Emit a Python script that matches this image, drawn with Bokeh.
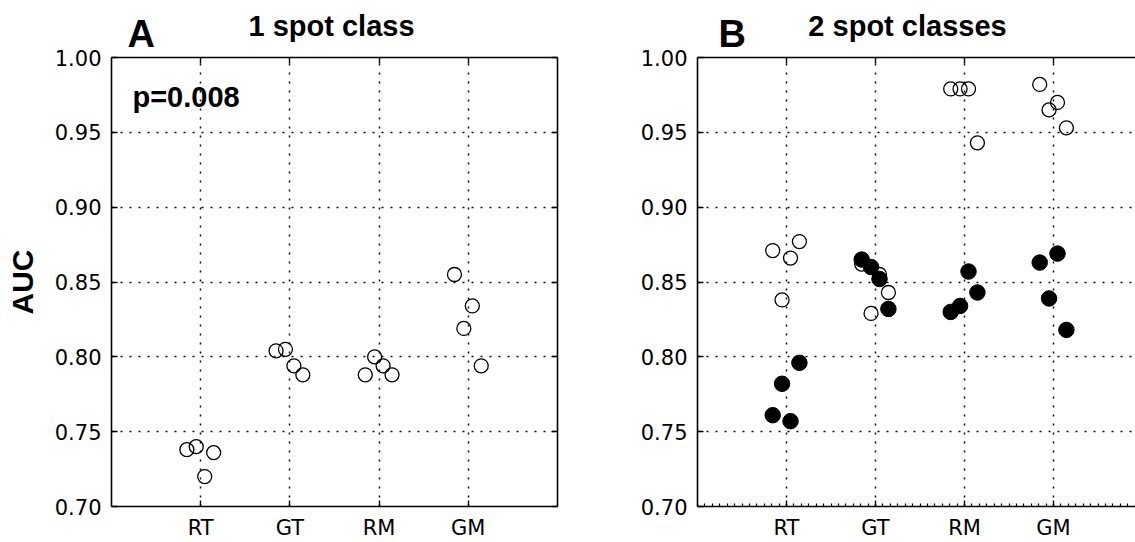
import numpy as np
from bokeh.plotting import figure
from bokeh.models import Range1d, FixedTicker, LinearAxis, Label, PrintfTickFormatter, ColumnDataSource
from bokeh.layouts import row, column
from bokeh.core.properties import value
from bokeh.embed import file_html
from bokeh.resources import INLINE

# ---------------- data ----------------
categories = ["RT", "GT", "RM", "GM"]
subject_offset = [-0.155, -0.05, 0.045, 0.145]   # per-subject horizontal jitter
y_ticks = [0.70, 0.75, 0.80, 0.85, 0.90, 0.95, 1.00]

# Panel A: 1 spot class (open circles)
one_class_RT = [0.738, 0.740, 0.720, 0.736]
one_class_GT = [0.804, 0.805, 0.794, 0.788]
one_class_RM = [0.788, 0.800, 0.794, 0.788]
one_class_GM = [0.855, 0.819, 0.834, 0.794]

# Panel B: 2 spot classes, open circles
two_class_open_RT = [0.871, 0.838, 0.866, 0.877]
two_class_open_GT = [0.862, 0.829, 0.855, 0.843]
two_class_open_RM = [0.979, 0.979, 0.979, 0.943]
two_class_open_GM = [0.982, 0.965, 0.970, 0.953]

# Panel B: 2 spot classes, filled circles
two_class_fill_RT = [0.761, 0.782, 0.757, 0.796]
two_class_fill_GT = [0.865, 0.860, 0.852, 0.832]
two_class_fill_RM = [0.830, 0.834, 0.857, 0.843]
two_class_fill_GM = [0.863, 0.839, 0.869, 0.818]

panel_letters = ["A", "B"]
panel_titles = ["1 spot class", "2 spot classes"]
p_value_text = "p=0.008"

FONT = "Liberation Sans"
TICK_FONT = "DejaVu Sans"

HEADER_H = 55
OVERLAP = 12
PANEL_TOP = HEADER_H - OVERLAP
PANEL_H = 542 - PANEL_TOP


def series_source(groups):
    xs, ys = [], []
    for ci, vals in enumerate(groups):
        for si, v in enumerate(vals):
            xs.append(ci + 1 + subject_offset[si])
            ys.append(v)
    return ColumnDataSource(dict(x=xs, y=ys))


def make_fig(width, min_left, min_right, xmax, right_axis, minor_bottom):
    p = figure(width=width, height=PANEL_H, x_range=Range1d(0, xmax), y_range=Range1d(0.70, 1.00),
               output_backend="svg", toolbar_location=None, title=None,
               min_border_left=min_left, min_border_right=min_right,
               min_border_top=57 - PANEL_TOP, min_border_bottom=33)
    p.outline_line_color = None
    p.background_fill_color = "white"
    p.border_fill_color = None

    # grid (dotted)
    p.xgrid.ticker = FixedTicker(ticks=[1, 2, 3, 4])
    p.ygrid.ticker = FixedTicker(ticks=y_ticks)
    for g in (p.xgrid, p.ygrid):
        g.grid_line_color = "black"
        g.grid_line_dash = "2 7"
        g.grid_line_width = 1.5
        g.grid_line_alpha = 0.95

    xa = p.xaxis[0]
    if minor_bottom:
        xa.ticker = FixedTicker(ticks=[1, 2, 3, 4], minor_ticks=list(np.arange(0, xmax, 1 / 12)))
    else:
        xa.ticker = FixedTicker(ticks=[1, 2, 3, 4])
    xa.major_label_overrides = {i + 1: c for i, c in enumerate(categories)}
    ya = p.yaxis[0]
    ya.ticker = FixedTicker(ticks=y_ticks)
    ya.formatter = PrintfTickFormatter(format="%.2f")

    for ax in (xa, ya):
        ax.axis_line_color = "black"
        ax.axis_line_width = 1.6
        ax.major_tick_in = 6
        ax.major_tick_out = 0
        ax.major_tick_line_color = "black"
        ax.major_tick_line_width = 1.4
        ax.major_label_text_font = TICK_FONT
        ax.major_label_text_font_size = "21px"
        ax.major_label_text_color = "black"
    xa.major_label_standoff = 9
    ya.major_label_standoff = 10
    if minor_bottom:
        xa.minor_tick_in = 3
        xa.minor_tick_out = 0
        xa.minor_tick_line_color = "black"
        xa.minor_tick_line_width = 1.2
    else:
        xa.minor_tick_line_color = None
    ya.minor_tick_line_color = None

    # top (and right) frame lines carrying inward tick marks, without labels
    top = LinearAxis(ticker=FixedTicker(ticks=[1, 2, 3, 4]))
    extra = [top]
    if right_axis:
        extra.append(LinearAxis(ticker=FixedTicker(ticks=y_ticks)))
    for ax in extra:
        ax.axis_line_color = "black"
        ax.axis_line_width = 1.6
        ax.major_tick_in = 6
        ax.major_tick_out = 0
        ax.major_tick_line_color = "black"
        ax.major_tick_line_width = 1.4
        ax.minor_tick_line_color = None
        ax.major_label_text_color = None
        ax.major_label_text_font_size = "1px"
        ax.major_label_standoff = 0
    p.add_layout(top, "above")
    if right_axis:
        p.add_layout(extra[1], "right")
    return p


# ---------------- header (panel letters and titles) ----------------
header = figure(width=1135, height=HEADER_H, x_range=Range1d(0, 1135), y_range=Range1d(HEADER_H, 0),
                output_backend="svg", toolbar_location=None, min_border=0, title=None,
                x_axis_location=None, y_axis_location=None)
header.outline_line_color = None
header.xgrid.visible = False
header.ygrid.visible = False
header.margin = (0, 0, -OVERLAP, 0)
header.text(x=[127, 718], y=[33, 33], text=panel_letters, text_font=value(FONT),
            text_font_style="bold", text_font_size="38px", text_color="black",
            text_align="left", text_baseline="alphabetic")
header.text(x=[331, 907], y=[25, 25], text=panel_titles, text_font=value(FONT),
            text_font_style="bold", text_font_size="29px", text_color="black",
            text_align="center", text_baseline="alphabetic")

# ---------------- panel A ----------------
pa = make_fig(600, 111, 43, 5.0, True, False)
pa.yaxis[0].axis_label = "AUC"
pa.yaxis[0].axis_label_text_font = FONT
pa.yaxis[0].axis_label_text_font_style = "bold"
pa.yaxis[0].axis_label_text_font_size = "30px"
pa.yaxis[0].axis_label_text_color = "black"
pa.yaxis[0].axis_label_standoff = 13

src_a = series_source([one_class_RT, one_class_GT, one_class_RM, one_class_GM])
pa.scatter("x", "y", source=src_a, marker="circle", size=14, fill_color=None,
           line_color="black", line_width=1.3)
pa.add_layout(Label(x=0.235, y=0.9735, text=p_value_text, text_font=FONT, text_font_style="bold",
                    text_font_size="29px", text_color="black", text_baseline="alphabetic"))

# ---------------- panel B ----------------
pb = make_fig(535, 97, 0, 438 / 89.0, False, True)
src_bo = series_source([two_class_open_RT, two_class_open_GT, two_class_open_RM, two_class_open_GM])
src_bf = series_source([two_class_fill_RT, two_class_fill_GT, two_class_fill_RM, two_class_fill_GM])
pb.scatter("x", "y", source=src_bo, marker="circle", size=14, fill_color=None,
           line_color="black", line_width=1.3)
pb.scatter("x", "y", source=src_bf, marker="circle", size=15.5, fill_color="black",
           line_color="black", line_width=1)

layout = column(header, row(pa, pb, spacing=0), spacing=0)
open("out.html", "w").write(file_html(layout, INLINE))
